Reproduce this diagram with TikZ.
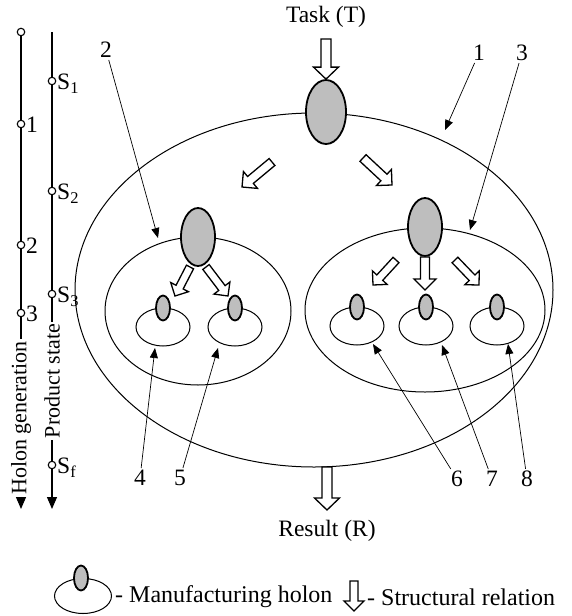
\documentclass[tikz,border=0pt]{standalone}
\usepackage{fontspec}
\setmainfont{Liberation Serif}
\usetikzlibrary{shapes.geometric,arrows.meta,calc}

\definecolor{holongray}{HTML}{BEBEBE}

% hollow block arrow along +x: length, shaft half width, head half width, head length
\tikzset{
  relation/.style={draw, fill=white, line width=1.3pt, line join=miter},
  pics/harrow/.style n args={4}{code={
    \pgfmathsetmacro\arL{#1}
    \pgfmathsetmacro\arB{\arL-#4}
    \draw[relation] (0,-#2) -- (\arB,-#2) -- (\arB,-#3) -- (\arL,0)
      -- (\arB,#3) -- (\arB,#2) -- (0,#2) -- cycle;
  }}
}
% \relarrow{sizes}{tail}{tip}
\newcommand\relarrow[3]{%
  \path let \p1=(#2), \p2=(#3),
    \n1={atan2(\y2-\y1,\x2-\x1)}, \n2={veclen(\x2-\x1,\y2-\y1)}
    in (\p1) pic[rotate=\n1]{harrow={\n2}#1};}

\begin{document}
\begin{tikzpicture}[x=1pt,y=-1pt,
  every node/.style={font=\fontsize{23.5}{27}\selectfont},
  ring/.style={ellipse, draw, line width=1pt, inner sep=0pt},
  smallring/.style={ring, minimum width=54pt, minimum height=38pt},
  holon/.style={ellipse, draw, line width=1.8pt, fill=holongray, inner sep=0pt},
  bighol/.style={holon, minimum width=40pt, minimum height=64pt},
  midhol/.style={holon, minimum width=34pt, minimum height=58pt},
  smallhol/.style={holon, minimum width=14pt, minimum height=25pt},
  pointer/.style={line width=0.7pt, -{Triangle[length=10pt,width=8pt]}},
  tick/.style={circle, draw, line width=1.1pt, fill=white, inner sep=0pt, minimum size=7.5pt},
  axis/.style={line width=1.1pt},
  axisend/.style={axis, -{Triangle[length=12pt,width=10pt]}},
  numlabel/.style={inner sep=2pt},
  sidelabel/.style={anchor=west, inner sep=0pt},
  vtext/.style={rotate=90, inner sep=2pt, font=\fontsize{22}{26}\selectfont},
  legendtext/.style={anchor=west, inner sep=0pt, font=\fontsize{24}{28}\selectfont}
]
\useasboundingbox (0,0) rectangle (572,616);

% ---- holarchy rings ----
\node[ring, minimum width=478pt, minimum height=354pt] (R) at (314,290) {};
\node[ring, minimum width=186pt, minimum height=148pt] (RL) at (198,311) {};
\node[ring, minimum width=240pt, minimum height=164pt] (RR) at (425,310) {};
\node[smallring] (r4) at (163,327) {};
\node[smallring] (r5) at (235,327) {};
\node[smallring] (r6) at (357,326) {};
\node[smallring] (r7) at (426,326) {};
\node[smallring] (r8) at (497,326) {};

% ---- holons ----
\node[bighol] (H0) at (326,112) {};
\node[midhol] (HL) at (198,237) {};
\node[midhol] (HR) at (425,227) {};
\node[smallhol] (h4) at (163,308) {};
\node[smallhol] (h5) at (235,308) {};
\node[smallhol] (h6) at (357,307) {};
\node[smallhol] (h7) at (426,307) {};
\node[smallhol] (h8) at (497,307) {};

% ---- task and result ----
\node (task) at (326,17) {Task (T)};
\node (result) at (327,531) {Result (R)};
\coordinate (taskTail) at (326,39);
\coordinate (resTail) at (327,467);
\coordinate (resTip) at (327,510);
\relarrow{{5}{12.5}{12}}{taskTail}{H0.north}
\relarrow{{5}{12.5}{12}}{resTail}{resTip}

% ---- structural relations ----
\coordinate (bL1) at (272,162); \coordinate (bL2) at (242,187);
\coordinate (bR1) at (363,158); \coordinate (bR2) at (392,185);
\relarrow{{4.5}{11}{11}}{bL1}{bL2}
\relarrow{{4.5}{11}{11}}{bR1}{bR2}

\coordinate (lA1) at (190,267); \coordinate (lA2) at (175,296);
\coordinate (lB1) at (206,267); \coordinate (lB2) at (228,296);
\relarrow{{4}{10}{10}}{lA1}{lA2}
\relarrow{{4}{10}{10}}{lB1}{lB2}

\coordinate (rA1) at (396,260); \coordinate (rA2) at (373,285);
\coordinate (rC2) at (425,290);
\coordinate (rB1) at (455,260); \coordinate (rB2) at (479,285);
\relarrow{{4}{10}{10}}{rA1}{rA2}
\relarrow{{4.5}{11}{11}}{HR.south}{rC2}
\relarrow{{4}{10}{10}}{rB1}{rB2}

% ---- numbered pointers ----
\node[numlabel] (n1) at (479,53) {1};
\node[numlabel] (n2) at (106,50) {2};
\node[numlabel] (n3) at (522,53) {3};
\node[numlabel] (n4) at (140,478) {4};
\node[numlabel] (n5) at (180,478) {5};
\node[numlabel] (n6) at (457,479) {6};
\node[numlabel] (n7) at (492,479) {7};
\node[numlabel] (n8) at (527,479) {8};
\coordinate (p1) at (445,130);
\coordinate (p2) at (158,238);
\coordinate (p3) at (470,230);
\coordinate (p4) at (155,348);
\coordinate (p5) at (218,348);
\coordinate (p6) at (373,344);
\coordinate (p7) at (442,345);
\coordinate (p8) at (508,344);
\draw[pointer] (n1) -- (p1);
\draw[pointer] (n2) -- (p2);
\draw[pointer] (n3) -- (p3);
\draw[pointer] (n4) -- (p4);
\draw[pointer] (n5) -- (p5);
\draw[pointer] (n6) -- (p6);
\draw[pointer] (n7) -- (p7);
\draw[pointer] (n8) -- (p8);

% ---- holon generation axis ----
\node[tick] (hg0) at (21,32) {};
\node[tick] (hg1) at (21,124) {};
\node[tick] (hg2) at (21,245) {};
\node[tick] (hg3) at (21,313) {};
\node[vtext] (hgt) at (21,418) {Holon generation};
\coordinate (hgEnd) at (21,509);
\draw[axis] (hg0) -- (hg1) -- (hg2) -- (hg3) -- (hgt);
\draw[axisend] (hgt) -- (hgEnd);
\node[sidelabel] at (26,125) {1};
\node[sidelabel] at (26,246) {2};
\node[sidelabel] at (26,314) {3};

% ---- product state axis ----
\coordinate (ps0) at (52,32);
\node[tick] (ps1) at (52,81) {};
\node[tick] (ps2) at (52,191) {};
\node[tick] (ps3) at (52,294) {};
\node[vtext] (pst) at (52,381) {Product state};
\node[tick] (psf) at (52,465) {};
\coordinate (psEnd) at (52,509);
\draw[axis] (ps0) -- (ps1) -- (ps2) -- (ps3) -- (pst) -- (psf);
\draw[axisend] (psf) -- (psEnd);
\node[sidelabel] at (57,84) {S\textsubscript{1}};
\node[sidelabel] at (57,194) {S\textsubscript{2}};
\node[sidelabel] at (57,297) {S\textsubscript{3}};
\node[sidelabel] at (57,468) {S\textsubscript{f}};

% ---- legend ----
\node[ring, minimum width=57pt, minimum height=35pt] (legRing) at (83,596) {};
\node[smallhol] (legHolon) at (81,578) {};
\node[legendtext] (legH) at (115,597) {- Manufacturing holon};
\coordinate (legTail) at (354,581);
\coordinate (legTip) at (354,611);
\relarrow{{4}{10}{10}}{legTail}{legTip}
\node[legendtext] (legR) at (367,597) {- Structural relation};
\end{tikzpicture}
\end{document}
